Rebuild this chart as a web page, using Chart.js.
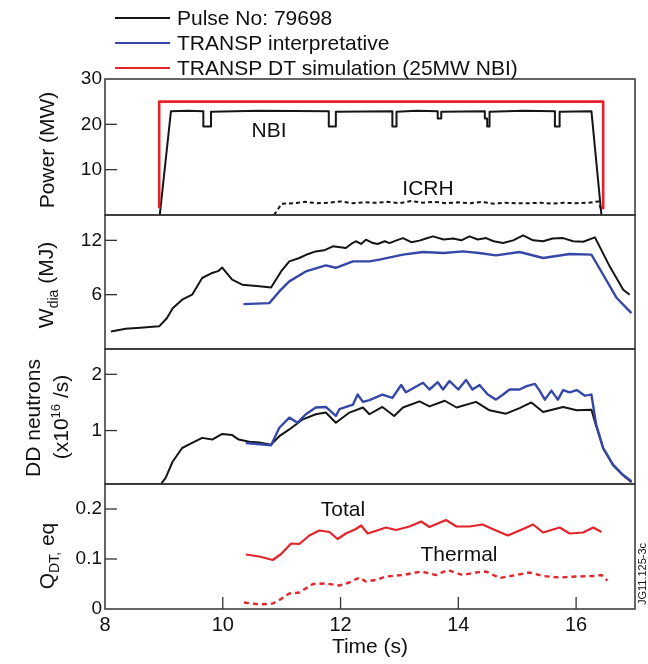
<!DOCTYPE html>
<html>
<head>
<meta charset="utf-8">
<script src="https://cdn.jsdelivr.net/npm/chart.js@4.4.0/dist/chart.umd.min.js"></script>
<style>
  body { margin: 0; background: #fff; }
  #wrap { position: relative; width: 648px; height: 664px; }
  #wrap canvas { position: absolute; left: 0; top: 0; }
</style>
</head>
<body>
<div id="wrap">
  <canvas id="cPower" width="648" height="664"></canvas>
  <canvas id="cWdia" width="648" height="664"></canvas>
  <canvas id="cDD" width="648" height="664"></canvas>
  <canvas id="cQ" width="648" height="664"></canvas>
</div>
<script>
// --- data (time in s) ---
const timeTicks = [8, 10, 12, 14, 16];

const nbiTime  = [8.93, 9.12, 9.40, 9.67, 9.67, 9.80, 9.80, 10.6, 11.80, 11.80, 11.92, 11.92, 12.88, 12.88, 12.95, 12.95, 13.3, 13.65, 13.65, 13.71, 13.71, 14.45, 14.45, 14.49, 14.49, 14.53, 14.53, 15.1, 15.64, 15.64, 15.72, 15.72, 16.26, 16.43];
const nbiPower = [0, 22.9, 23.0, 22.9, 19.5, 19.5, 22.8, 23.0, 22.9, 19.5, 19.5, 22.8, 22.9, 19.5, 19.5, 22.8, 23.0, 22.9, 21.3, 21.3, 22.8, 22.9, 21.3, 21.3, 19.5, 19.5, 22.8, 23.0, 22.9, 19.5, 19.5, 22.8, 22.9, 0];

const dtTime  = [8.92, 8.92, 16.46, 16.46];
const dtPower = [1.5, 25, 25, 1.5];

const icrhTime  = [10.87, 11.0, 11.2, 11.4, 11.6, 11.8, 12.0, 12.2, 12.4, 12.6, 12.8, 13.0, 13.2, 13.4, 13.6, 13.8, 14.0, 14.2, 14.4, 14.6, 14.8, 15.0, 15.2, 15.4, 15.6, 15.8, 16.0, 16.2, 16.38, 16.43];
const icrhPower = [0, 2.5, 2.6, 2.9, 2.6, 2.7, 3.0, 2.6, 2.8, 2.7, 2.9, 2.6, 3.1, 2.7, 2.9, 2.6, 2.8, 2.6, 2.9, 2.5, 2.7, 2.6, 2.6, 2.7, 2.5, 2.7, 2.6, 2.7, 3.0, 1.0];

const wdiaTime = [8.10, 8.35, 8.6, 8.92, 9.05, 9.15, 9.31, 9.48, 9.65, 9.82, 9.92, 9.99, 10.16, 10.33, 10.62, 10.82, 10.99, 11.13, 11.30, 11.45, 11.58, 11.72, 11.87, 12.09, 12.18, 12.26, 12.35, 12.43, 12.55, 12.63, 12.75, 12.83, 12.95, 13.06, 13.2, 13.34, 13.45, 13.57, 13.75, 13.91, 14.05, 14.19, 14.33, 14.47, 14.6, 14.76, 14.93, 15.10, 15.27, 15.44, 15.6, 15.78, 15.95, 16.12, 16.32, 16.57, 16.80, 16.91];
const wdiaMeas = [1.94, 2.24, 2.35, 2.5, 3.4, 4.5, 5.45, 6.0, 7.84, 8.4, 8.6, 9.0, 7.66, 7.1, 6.92, 6.8, 8.57, 9.68, 10.05, 10.5, 10.78, 10.9, 11.34, 11.15, 11.6, 11.9, 11.6, 12.07, 11.7, 11.6, 11.9, 11.7, 12.0, 12.25, 11.8, 11.97, 12.2, 12.44, 12.1, 12.2, 12.0, 12.44, 12.1, 12.25, 11.9, 11.7, 12.0, 12.55, 12.0, 11.9, 12.2, 12.25, 11.9, 11.85, 12.33, 9.13, 6.55, 6.0];

const wdiaTrTime = [10.35, 10.79, 10.96, 11.13, 11.41, 11.75, 11.92, 12.21, 12.49, 12.66, 13.06, 13.40, 13.75, 14.08, 14.35, 14.64, 15.04, 15.44, 15.89, 16.26, 16.46, 16.69, 16.94];
const wdiaTr     = [4.96, 5.07, 6.36, 7.47, 8.57, 9.24, 8.97, 9.68, 9.68, 9.87, 10.42, 10.71, 10.6, 10.78, 10.6, 10.34, 10.71, 10.05, 10.49, 10.42, 8.2, 5.63, 3.97];

const ddTime = [8.24, 8.95, 9.03, 9.15, 9.31, 9.48, 9.65, 9.82, 9.99, 10.16, 10.27, 10.45, 10.62, 10.82, 10.96, 11.13, 11.36, 11.58, 11.75, 11.92, 12.15, 12.38, 12.49, 12.71, 12.91, 13.06, 13.34, 13.51, 13.77, 13.97, 14.30, 14.53, 14.81, 15.04, 15.24, 15.44, 15.78, 16.01, 16.26, 16.34, 16.46, 16.63, 16.80, 16.94];
const ddMeas = [0.05, 0.05, 0.16, 0.45, 0.69, 0.78, 0.87, 0.84, 0.94, 0.92, 0.84, 0.80, 0.79, 0.75, 0.90, 1.02, 1.20, 1.29, 1.32, 1.14, 1.32, 1.41, 1.29, 1.42, 1.26, 1.41, 1.52, 1.43, 1.53, 1.41, 1.51, 1.36, 1.30, 1.40, 1.50, 1.33, 1.42, 1.36, 1.37, 1.08, 0.68, 0.38, 0.20, 0.08];

const ddTrTime = [10.39, 10.82, 10.96, 11.13, 11.27, 11.41, 11.58, 11.75, 11.92, 11.98, 12.21, 12.29, 12.38, 12.49, 12.71, 12.88, 13.03, 13.11, 13.40, 13.51, 13.65, 13.74, 13.85, 14.0, 14.13, 14.24, 14.36, 14.50, 14.64, 14.76, 14.87, 15.04, 15.16, 15.30, 15.38, 15.47, 15.58, 15.69, 15.78, 15.89, 16.01, 16.15, 16.26, 16.34, 16.46, 16.63, 16.80, 16.94];
const ddTr     = [0.78, 0.74, 1.05, 1.23, 1.14, 1.29, 1.41, 1.42, 1.26, 1.38, 1.46, 1.64, 1.51, 1.54, 1.64, 1.58, 1.81, 1.68, 1.85, 1.73, 1.86, 1.73, 1.88, 1.73, 1.90, 1.73, 1.81, 1.64, 1.55, 1.64, 1.73, 1.73, 1.79, 1.83, 1.71, 1.55, 1.71, 1.55, 1.72, 1.68, 1.72, 1.62, 1.64, 1.11, 0.69, 0.39, 0.21, 0.10];

const qTime  = [10.39, 10.62, 10.85, 10.99, 11.16, 11.30, 11.47, 11.64, 11.81, 11.95, 12.09, 12.26, 12.35, 12.46, 12.62, 12.77, 12.94, 13.17, 13.37, 13.51, 13.79, 13.97, 14.19, 14.41, 14.64, 14.84, 15.10, 15.27, 15.44, 15.72, 15.89, 16.12, 16.29, 16.43];
const qTotal = [0.109, 0.105, 0.098, 0.11, 0.131, 0.13, 0.147, 0.157, 0.154, 0.14, 0.151, 0.16, 0.167, 0.151, 0.157, 0.163, 0.158, 0.165, 0.175, 0.164, 0.178, 0.165, 0.165, 0.169, 0.157, 0.147, 0.16, 0.169, 0.153, 0.163, 0.151, 0.153, 0.163, 0.154];

const qThTime  = [10.36, 10.62, 10.85, 10.99, 11.13, 11.30, 11.53, 11.75, 11.98, 12.15, 12.32, 12.43, 12.6, 12.77, 13.06, 13.37, 13.62, 13.82, 14.07, 14.30, 14.47, 14.70, 14.98, 15.21, 15.44, 15.72, 16.01, 16.29, 16.43, 16.53];
const qThermal = [0.013, 0.009, 0.011, 0.02, 0.031, 0.033, 0.05, 0.051, 0.047, 0.053, 0.063, 0.055, 0.058, 0.065, 0.068, 0.075, 0.068, 0.078, 0.068, 0.073, 0.075, 0.062, 0.068, 0.073, 0.066, 0.063, 0.065, 0.066, 0.068, 0.057];

const powerTicks = [10, 20, 30];
const wdiaTicks = [6, 12];
const ddTicks = [1, 2];
const qTicks = [0, 0.1, 0.2];

const legendItems = ['Pulse No: 79698', 'TRANSP interpretative', 'TRANSP DT simulation (25MW NBI)'];

const BLACK = '#151515', BLUE = '#3548a8', RED = '#e5232a';
const FONT = '"Liberation Sans", Arial, sans-serif';
Chart.defaults.font.family = FONT;
Chart.defaults.color = '#111';

const pairs = (t, v) => t.map((x, i) => ({ x: x, y: v[i] }));

function line(data, color, width, dash) {
  return {
    data: data, borderColor: color, borderWidth: width, borderDash: dash || [],
    pointRadius: 0, tension: 0, fill: false, borderJoinStyle: 'round'
  };
}

// draws text pieces (with sub/superscripts) rotated -90deg around a centre
function rotText(ctx, cx, cy, parts) {
  ctx.save();
  ctx.translate(cx, cy);
  ctx.rotate(-Math.PI / 2);
  let total = 0;
  parts.forEach(p => { ctx.font = p[1] + 'px ' + FONT; total += ctx.measureText(p[0]).width; });
  let x = -total / 2;
  ctx.textBaseline = 'alphabetic';
  ctx.textAlign = 'left';
  parts.forEach(p => {
    ctx.font = p[1] + 'px ' + FONT;
    ctx.fillText(p[0], x, 7.5 + (p[2] || 0));
    x += ctx.measureText(p[0]).width;
  });
  ctx.restore();
}

const panelPlugin = {
  id: 'panel',
  afterDraw(chart, args, opts) {
    const ctx = chart.ctx, a = chart.chartArea;
    ctx.save();
    ctx.fillStyle = '#111';
    ctx.strokeStyle = '#333';
    ctx.lineWidth = 1.5;
    ctx.strokeRect(a.left, a.top, a.right - a.left, a.bottom - a.top);
    // inward tick marks
    ctx.lineWidth = 1.3;
    const ys = chart.scales.y;
    ys.ticks.forEach(t => {
      const py = ys.getPixelForValue(t.value);
      if (py > a.top + 2 && py < a.bottom - 2) {
        ctx.beginPath(); ctx.moveTo(a.left, py); ctx.lineTo(a.left + 12, py); ctx.stroke();
      }
    });
    const xs = chart.scales.x;
    if (xs.options.display) {
      xs.ticks.forEach(t => {
        const px = xs.getPixelForValue(t.value);
        if (px > a.left + 2 && px < a.right - 2) {
          ctx.beginPath(); ctx.moveTo(px, a.bottom); ctx.lineTo(px, a.bottom - 12); ctx.stroke();
        }
      });
    }
    // axis titles
    (opts.titles || []).forEach(tt => rotText(ctx, tt.x, tt.y, tt.parts));
    // annotations
    ctx.textAlign = 'center';
    ctx.textBaseline = 'middle';
    (opts.notes || []).forEach(n => {
      ctx.font = (n.size || 21) + 'px ' + FONT;
      ctx.fillText(n.text, n.x, n.y);
    });
    // legend
    if (opts.legend) {
      const cols = [BLACK, BLUE, RED];
      legendItems.forEach((txt, i) => {
        const y = 18 + i * 25;
        ctx.strokeStyle = cols[i];
        ctx.lineWidth = 2;
        ctx.beginPath(); ctx.moveTo(115, y); ctx.lineTo(170, y); ctx.stroke();
        ctx.font = '21px ' + FONT;
        ctx.textAlign = 'left';
        ctx.fillText(txt, 177, y + 1);
      });
    }
    ctx.restore();
  }
};

function makePanel(id, top, bottom, yMin, yMax, yTicks, yFmt, datasets, panelOpts, showX) {
  const xScale = {
    type: 'linear', min: 8, max: 17, display: !!showX,
    grid: { display: false, drawTicks: false }, border: { display: false },
    afterBuildTicks: s => { s.ticks = timeTicks.map(v => ({ value: v })); },
    ticks: { font: { size: 20 }, padding: 4, maxRotation: 0, color: '#111' },
    title: { display: !!showX, text: 'Time (s)', font: { size: 21 }, padding: { top: 0, bottom: 4 }, color: '#111' },
    afterFit: s => { if (showX) s.height = 55; }
  };
  return new Chart(document.getElementById(id), {
    type: 'line',
    data: { datasets: datasets },
    options: {
      responsive: false, animation: false, events: [],
      layout: { padding: { left: 0, right: 13, top: top, bottom: showX ? 0 : 664 - bottom } },
      plugins: { legend: { display: false }, tooltip: { enabled: false }, panel: panelOpts },
      scales: {
        x: xScale,
        y: {
          type: 'linear', min: yMin, max: yMax,
          grid: { display: false, drawTicks: false }, border: { display: false },
          afterBuildTicks: s => { s.ticks = yTicks.map(v => ({ value: v })); },
          afterFit: s => { s.width = 105; },
          ticks: { font: { size: 19 }, padding: 3, color: '#111', callback: yFmt }
        }
      }
    },
    plugins: [panelPlugin]
  });
}

const plain = v => String(v);

makePanel('cPower', 79, 215, 0, 30, powerTicks, plain, [
  line(pairs(dtTime, dtPower), RED, 2.6),
  line(pairs(nbiTime, nbiPower), BLACK, 2),
  line(pairs(icrhTime, icrhPower), BLACK, 2, [4, 3])
], {
  legend: true,
  titles: [{ x: 46, y: 150, parts: [['Power (MW)', 21]] }],
  notes: [{ text: 'NBI', x: 269, y: 131 }, { text: 'ICRH', x: 428, y: 189 }]
});

makePanel('cWdia', 215, 349, 0, 14.8, wdiaTicks, plain, [
  line(pairs(wdiaTrTime, wdiaTr), BLUE, 2.4),
  line(pairs(wdiaTime, wdiaMeas), BLACK, 2)
], {
  titles: [{ x: 45, y: 285, parts: [['W', 21], ['dia', 14, 5], [' (MJ)', 21]] }]
});

makePanel('cDD', 349, 484, 0.05, 2.45, ddTicks, plain, [
  line(pairs(ddTrTime, ddTr), BLUE, 2.4),
  line(pairs(ddTime, ddMeas), BLACK, 2)
], {
  titles: [
    { x: 32, y: 418, parts: [['DD neutrons', 21]] },
    { x: 60, y: 417, parts: [['(x10', 21], ['16', 13, -8], [' /s)', 21]] }
  ]
});

makePanel('cQ', 484, 609, 0, 0.25, qTicks, plain, [
  line(pairs(qTime, qTotal), RED, 2.2),
  line(pairs(qThTime, qThermal), RED, 2.4, [5, 4])
], {
  titles: [{ x: 46, y: 556, parts: [['Q', 21], ['DT,', 14, 5], [' eq', 21]] }],
  notes: [
    { text: 'Total', x: 343, y: 510 },
    { text: 'Thermal', x: 459, y: 555 }
  ]
}, true);

// small rotated figure code at the right edge
(function () {
  const c = document.getElementById('cQ');
  const ctx = c.getContext('2d');
  ctx.save();
  ctx.translate(643, 574);
  ctx.rotate(-Math.PI / 2);
  ctx.font = '11px ' + FONT;
  ctx.fillStyle = '#111';
  ctx.textAlign = 'center';
  ctx.textBaseline = 'middle';
  ctx.fillText('JG11.125-3c', 0, 0);
  ctx.restore();
})();
</script>
</body>
</html>
